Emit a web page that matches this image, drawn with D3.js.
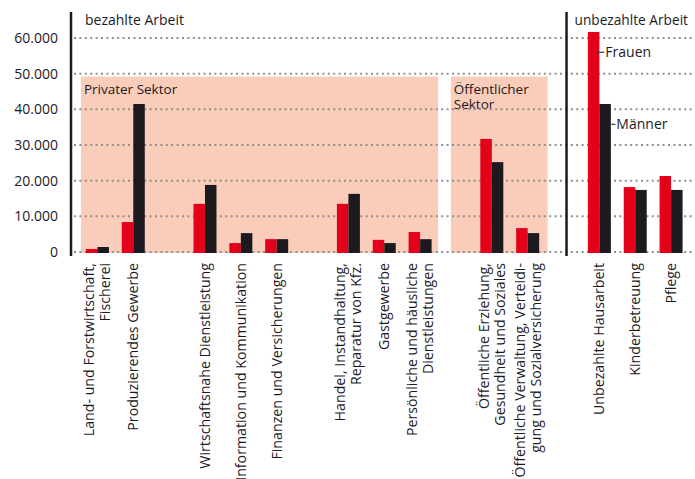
<!DOCTYPE html>
<html lang="de">
<head>
<meta charset="utf-8">
<title>Bezahlte und unbezahlte Arbeit</title>
<script src="https://d3js.org/d3.v7.min.js"></script>
<style>
  body { margin: 0; background: #fff; }
  svg { font-family: "Open Sans", "Noto Sans", sans-serif; }
</style>
</head>
<body>
<svg width="695" height="479"></svg>
<script>
    // categories (label lines), grouped into blocks separated by an empty slot
    const categories = [
        ["Land- und Forstwirtschaft,", "Fischerei"],
        ["Produzierendes Gewerbe"],
        ["Wirtschaftsnahe Dienstleistung"],
        ["Information und Kommunikation"],
        ["Finanzen und Versicherungen"],
        ["Handel, Instandhaltung,", "Reparatur von Kfz."],
        ["Gastgewerbe"],
        ["Persönliche und häusliche", "Dienstleistungen"],
        ["Öffentliche Erziehung,", "Gesundheit und Soziales"],
        ["Öffentliche Verwaltung, Verteidi-", "gung und Sozialversicherung"],
        ["Unbezahlte Hausarbeit"],
        ["Kinderbetreuung"],
        ["Pflege"]
    ];
    const blocks = [0, 0, 1, 1, 1, 2, 2, 2, 3, 3, 4, 4, 4];
    const frauen = [850, 8400, 13500, 2500, 3600, 13500, 3400, 5600, 31700, 6700, 61700, 18200, 21300];
    const maenner = [1400, 41500, 18800, 5300, 3600, 16300, 2500, 3600, 25200, 5300, 41500, 17400, 17400];
    const series = ["Frauen", "Männer"];
    const colors = ["#e2001a", "#1d1a1f"];
    const yTicks = [0, 10000, 20000, 30000, 40000, 50000, 60000];

    const svg = d3.select("svg");

    // slot domain: categories plus an empty slot between blocks
    const slots = [];
    categories.forEach((c, i) => {
        if (i > 0 && blocks[i] !== blocks[i - 1]) slots.push("gap" + i);
        slots.push("c" + i);
    });

    const x = d3.scaleBand().domain(slots).range([79.5, 689]);
    const xs = d3.scaleBand().domain(series).range([-11.5, 11.5]);
    const y = d3.scaleLinear().domain([0, 60000]).range([252, 38]);
    const cx = i => x("c" + i) + x.bandwidth() / 2;

    // sector backgrounds
    const sectors = [
        { name: ["Privater Sektor"], from: 0, to: 7, left: 16.5, right: 18 },
        { name: ["Öffentlicher", "Sektor"], from: 8, to: 9, left: 41, right: 20 }
    ];
    svg.selectAll("rect.sector")
        .data(sectors)
        .enter()
        .append("rect")
        .attr("class", "sector")
        .attr("x", d => cx(d.from) - d.left)
        .attr("width", d => cx(d.to) + d.right - cx(d.from) + d.left)
        .attr("y", y(49200))
        .attr("height", y(0) - y(49200) + 1)
        .attr("fill", "#f9cdb9");

    sectors.forEach(d => {
        const t = svg.append("text")
            .attr("x", cx(d.from) - d.left + 3)
            .attr("y", y(49200) + 17)
            .attr("font-size", 13.5)
            .attr("fill", "#1d1a1f");
        d.name.forEach((line, k) => {
            t.append("tspan").attr("x", cx(d.from) - d.left + 3).attr("dy", k ? 15 : 0).text(line);
        });
    });

    // dotted grid
    svg.selectAll("line.grid")
        .data(yTicks)
        .enter()
        .append("line")
        .attr("class", "grid")
        .attr("x1", 74)
        .attr("x2", 695)
        .attr("y1", d => y(d))
        .attr("y2", d => y(d))
        .attr("stroke", "#8f8f8f")
        .attr("stroke-width", 2)
        .attr("stroke-dasharray", "2,3.4");

    // y tick labels
    const fmt = d => d === 0 ? "0" : d3.format(",")(d).replace(/,/g, ".");
    svg.selectAll("text.ytick")
        .data(yTicks)
        .enter()
        .append("text")
        .attr("class", "ytick")
        .attr("x", 58)
        .attr("y", d => y(d) + 5)
        .attr("text-anchor", "end")
        .attr("font-size", 14)
        .attr("fill", "#1d1a1f")
        .text(fmt);

    // bars
    const rows = categories.map((c, i) => ({ i, values: [frauen[i], maenner[i]] }));
    const groups = svg.selectAll("g.cat")
        .data(rows)
        .enter()
        .append("g")
        .attr("class", "cat")
        .attr("transform", d => `translate(${cx(d.i)},0)`);

    groups.selectAll("rect")
        .data(d => d.values.map((v, k) => ({ v, k })))
        .enter()
        .append("rect")
        .attr("x", d => xs(series[d.k]))
        .attr("width", xs.bandwidth())
        .attr("y", d => y(d.v))
        .attr("height", d => y(0) - y(d.v) + 1)
        .attr("fill", d => colors[d.k]);

    // category labels, rotated
    groups.each(function(d) {
        const lines = categories[d.i];
        const g = d3.select(this);
        lines.forEach((line, k) => {
            const off = (k - (lines.length - 1) / 2) * 16 + 5;
            g.append("text")
                .attr("transform", `translate(${off},263) rotate(-90)`)
                .attr("text-anchor", "end")
                .attr("font-size", 14.2)
                .attr("fill", "#1d1a1f")
                .text(line);
        });
    });

    // axis lines
    const sepX = x("gap10") + x.bandwidth() / 2 + 3;
    [71, sepX].forEach(px => {
        svg.append("line")
            .attr("x1", px).attr("x2", px)
            .attr("y1", 12).attr("y2", 256)
            .attr("stroke", "#1d1a1f")
            .attr("stroke-width", 2.5);
    });

    svg.append("text").attr("x", 85).attr("y", 25)
        .attr("font-size", 14).attr("fill", "#1d1a1f").text("bezahlte Arbeit");
    svg.append("text").attr("x", sepX + 8).attr("y", 25)
        .attr("font-size", 13.7).attr("fill", "#1d1a1f").text("unbezahlte Arbeit");

    // series labels on the Hausarbeit bars
    const hx = cx(10);
    const legend = [
        { k: 0, v: 56000, x1: hx - 4, x2: hx + 5 },
        { k: 1, v: 35800, x1: hx + 12, x2: hx + 16 }
    ];
    legend.forEach(d => {
        svg.append("line")
            .attr("x1", d.x1).attr("x2", d.x2)
            .attr("y1", y(d.v)).attr("y2", y(d.v))
            .attr("stroke", "#3a3a3a").attr("stroke-width", 1.2);
        svg.append("text")
            .attr("x", d.x2 + 1).attr("y", y(d.v) + 5)
            .attr("font-size", 14).attr("fill", "#1d1a1f")
            .text(series[d.k]);
    });
</script>
</body>
</html>
